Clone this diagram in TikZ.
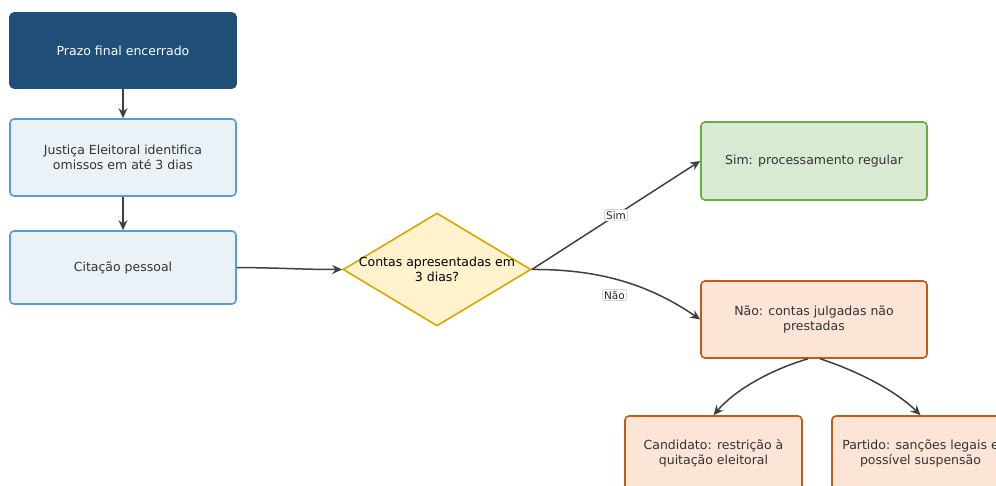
\documentclass[tikz,border=0pt]{standalone}
\usepackage{fontspec}
\setmainfont{DejaVu Sans}
\usetikzlibrary{shapes.geometric,arrows.meta}
\definecolor{darkblue}{HTML}{1F4E79}
\definecolor{lblue}{HTML}{EAF2F8}
\definecolor{bblue}{HTML}{5B9BD5}
\definecolor{lyel}{HTML}{FFF2CC}
\definecolor{byel}{HTML}{D6A800}
\definecolor{lgreen}{HTML}{D9EAD3}
\definecolor{bgreen}{HTML}{6AAB45}
\definecolor{lorange}{HTML}{FCE4D6}
\definecolor{borange}{HTML}{C55A11}
\definecolor{edgec}{HTML}{404040}
\tikzset{
  box/.style={rectangle, rounded corners=4pt, line width=1.6pt, minimum width=226pt, align=center, font=\fontsize{12.5}{15}\selectfont, text=black!80},
  startbox/.style={box, fill=darkblue, draw=darkblue, text=white, minimum height=75pt},
  procbox/.style={box, fill=lblue, draw=bblue},
  decbox/.style={diamond, aspect=1.66, fill=lyel, draw=byel, line width=1.6pt, minimum width=188pt, minimum height=113pt, inner sep=0pt},
  okbox/.style={box, fill=lgreen, draw=bgreen, minimum height=78pt},
  badbox/.style={box, fill=lorange, draw=borange},
  conn/.style={draw=edgec, line width=1.5pt, -{Stealth[length=10pt,width=9pt]}},
  elabel/.style={fill=white, draw=black!25, line width=0.5pt, inner sep=1.5pt, rounded corners=1pt, font=\fontsize{10.5}{12}\selectfont, text=black!85}
}
\begin{document}
\begin{tikzpicture}[x=1pt,y=-1pt]
\useasboundingbox (0,0) rectangle (996,486);
\node[startbox] (a) at (123,50.5) {Prazo final encerrado};
\node[procbox, minimum height=77pt] (b) at (123,157.5) {Justiça Eleitoral identifica\\omissos em até 3 dias};
\node[procbox, minimum height=73pt] (c) at (123,267.5) {Citação pessoal};
\node[decbox] (d) at (437,269.5) {};
\node[align=center, font=\fontsize{12.5}{15}\selectfont, text=black] (dt) at (d.center) {Contas apresentadas em\\3 dias?};
\node[okbox] (s) at (814,161) {Sim: processamento regular};
\node[badbox, minimum height=77pt] (n) at (814,319.5) {Não: contas julgadas não\\prestadas};
\node[badbox, minimum width=177pt, minimum height=75pt] (k) at (713.5,453.5) {Candidato: restrição à\\quitação eleitoral};
\node[badbox, minimum width=177pt, minimum height=75pt] (p) at (920.5,453.5) {Partido: sanções legais e\\possível suspensão};
\draw[conn] (a) -- (b);
\draw[conn] (b) -- (c);
\draw[conn] (c.east) .. controls (290,268) and (300,269.5) .. (d.west);
\draw[conn] (d.east) -- node[elabel, pos=0.5] {Sim} (s.west);
\draw[conn] (d.east) .. controls (600,269) and (650,285) .. coordinate[pos=0.45] (nl) (n.west);
\node[elabel] (nlab) at ([yshift=-16pt]nl) {Não};
\draw[conn] ([xshift=-6pt]n.south) .. controls (770,370) and (735,390) .. (k.north);
\draw[conn] ([xshift=6pt]n.south) .. controls (855,370) and (895,390) .. (p.north);
\end{tikzpicture}
\end{document}
